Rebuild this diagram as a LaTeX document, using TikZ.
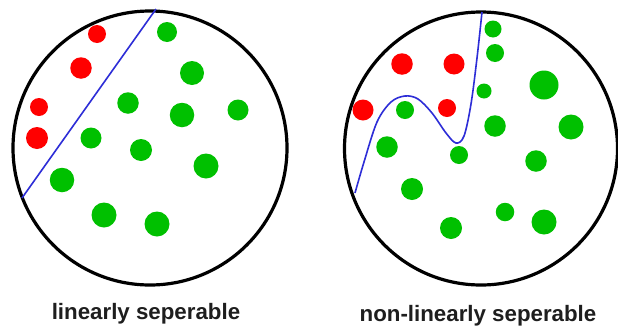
\documentclass[tikz,border=0pt]{standalone}
\usepackage{fontspec}
\setmainfont{Liberation Sans}
\definecolor{dotred}{RGB}{255,0,0}
\definecolor{dotgreen}{RGB}{0,192,0}
\definecolor{sepblue}{RGB}{45,45,215}
\definecolor{labelgray}{RGB}{30,30,30}
\tikzset{
  bigcircle/.style={circle, draw=black, line width=3.2pt, inner sep=0pt},
  reddot/.style={circle, fill=dotred, inner sep=0pt, minimum size=#1},
  greendot/.style={circle, fill=dotgreen, inner sep=0pt, minimum size=#1},
  sepline/.style={draw=sepblue, line width=1.6pt},
  caption/.style={text=labelgray, font=\bfseries\fontsize{22.3}{26}\selectfont, inner sep=0pt, anchor=base}
}
\begin{document}
\begin{tikzpicture}[x=1pt, y=-1pt]
\useasboundingbox (0,0) rectangle (618,327);
\fill[white] (0,0) rectangle (618,327);
% left panel
\node[bigcircle, minimum size=274pt] (L) at (150,148) {};
\node[reddot=18pt] (lr1) at (97,34) {};
\node[reddot=21.5pt] (lr2) at (81,68) {};
\node[reddot=18pt] (lr3) at (39,107) {};
\node[reddot=22pt] (lr4) at (37,138) {};
\node[greendot=20pt] (lg1) at (167,32) {};
\node[greendot=24pt] (lg2) at (192,73) {};
\node[greendot=21.5pt] (lg3) at (128,103) {};
\node[greendot=24.5pt] (lg4) at (182,115) {};
\node[greendot=21pt] (lg5) at (238,110) {};
\node[greendot=21pt] (lg6) at (91,138) {};
\node[greendot=22pt] (lg7) at (141,150) {};
\node[greendot=25pt] (lg8) at (206,166) {};
\node[greendot=24.5pt] (lg9) at (62,180) {};
\node[greendot=25pt] (lg10) at (104,215) {};
\node[greendot=25pt] (lg11) at (157,224) {};
\coordinate (la) at (156,9);
\coordinate (lb) at (22,198);
\draw[sepline] (la) -- (lb);
% right panel
\node[bigcircle, minimum size=273pt] (R) at (481,148.5) {};
\node[reddot=21.5pt] (rr1) at (402,64) {};
\node[reddot=21pt] (rr2) at (454,64) {};
\node[reddot=21pt] (rr3) at (363,110) {};
\node[reddot=18pt] (rr4) at (447,108) {};
\node[greendot=17pt] (rg1) at (493,29) {};
\node[greendot=18pt] (rg2) at (495,53) {};
\node[greendot=15pt] (rg3) at (484,91) {};
\node[greendot=29pt] (rg4) at (544,85) {};
\node[greendot=18pt] (rg5) at (405,110) {};
\node[greendot=21.5pt] (rg6) at (495,126) {};
\node[greendot=25pt] (rg7) at (571,127) {};
\node[greendot=21.5pt] (rg8) at (387,147) {};
\node[greendot=18pt] (rg9) at (459,155) {};
\node[greendot=21.5pt] (rg10) at (536,161) {};
\node[greendot=22pt] (rg11) at (412,189) {};
\node[greendot=18.5pt] (rg12) at (505,212) {};
\node[greendot=25pt] (rg13) at (544,222) {};
\node[greendot=22pt] (rg14) at (451,228) {};
\draw[sepline] plot[smooth, tension=0.55] coordinates {(355,193) (364,162) (377,122) (391,102) (405,96) (418,99) (432,113) (446,133) (456,143) (464,136) (471,104) (477,58) (482,12)};
% captions
\node[caption] (capL) at (146,319) {linearly seperable};
\node[caption] (capR) at (478,321.5) {non-linearly seperable};
\end{tikzpicture}
\end{document}
